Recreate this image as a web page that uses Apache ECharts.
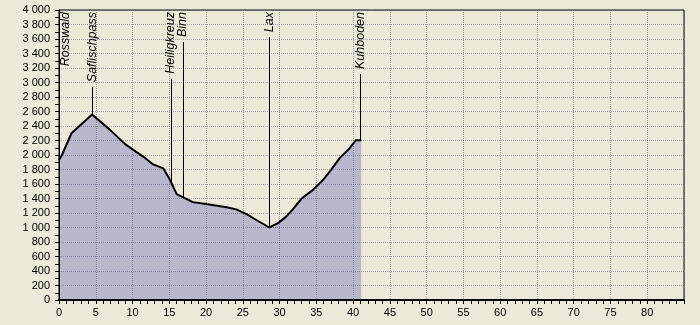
<!DOCTYPE html>
<html>
<head>
<meta charset="utf-8">
<script src="https://cdn.jsdelivr.net/npm/echarts@6/dist/echarts.min.js"></script>
<style>
html,body{margin:0;padding:0;background:#ECE9D8;}
#c{width:700px;height:325px;}
</style>
</head>
<body>
<div id="c"></div>
<script>
// Elevation profile: distance (km) and elevation (m)
const distanceKm = [0, 0.4, 1.7, 4.5, 6.9, 9.0, 10.1, 11.5, 12.8, 14.2, 15.1, 16.0, 16.9, 18.2, 20.0, 22.8, 24.1, 25.5, 26.9, 28.6, 29.8, 30.9, 31.8, 33.0, 34.5, 35.9, 37.0, 38.2, 39.5, 40.4, 41.1];
const elevationM = [1930, 2000, 2300, 2560, 2350, 2150, 2070, 1975, 1870, 1815, 1655, 1460, 1415, 1350, 1325, 1280, 1250, 1185, 1100, 1000, 1060, 1150, 1250, 1400, 1515, 1655, 1795, 1960, 2090, 2205, 2205];

// Waypoints
const placeNames = ['Rosswald', 'Saflischpass', 'Heiligkreuz', 'Binn', 'Lax', 'Kuhboden'];
const placeKm = [0, 4.5, 15.2, 16.8, 28.6, 41.0];
const placeElev = [1930, 2560, 1635, 1420, 1000, 2205];

// Axis settings
const xMin = 0, xMax = 85, xStep = 5;
const yMin = 0, yMax = 4000, yStep = 200;

const profile = distanceKm.map((d, i) => [d, elevationM[i]]);
const places = placeNames.map((n, i) => [placeKm[i], placeElev[i], n]);

const labelFont = 'italic 12.5px "Liberation Sans", Arial, sans-serif';
const measureCtx = document.createElement('canvas').getContext('2d');
measureCtx.font = labelFont;

function fmt(v) { return String(v).replace(/\B(?=(\d{3})+(?!\d))/g, ' '); }

const chart = echarts.init(document.getElementById('c'), null, {renderer: 'canvas'});
const gridLeft = 59, gridTop = 10;
const split = {show: true, lineStyle: {color: 'rgba(70,70,120,0.45)', width: 1, type: [1, 1]}};
chart.setOption({
  backgroundColor: '#ECE9D8',
  animation: false,
  grid: {left: gridLeft, right: 16, top: gridTop, bottom: 25, show: true, borderColor: '#000', borderWidth: 1, backgroundColor: 'transparent'},
  xAxis: {
    type: 'value', min: xMin, max: xMax, interval: xStep, z: 2,
    axisLine: {show: true, onZero: false, lineStyle: {color: '#000', width: 2}},
    axisTick: {show: true, length: 4, lineStyle: {color: '#000'}},
    minorTick: {show: true, splitNumber: 5, length: 4, lineStyle: {color: '#000'}},
    axisLabel: {color: '#000', fontSize: 11, fontFamily: '"Liberation Sans", Arial, sans-serif', margin: 7, showMaxLabel: false},
    splitLine: split
  },
  yAxis: {
    type: 'value', min: yMin, max: yMax, interval: yStep, z: 2,
    axisLine: {show: true, lineStyle: {color: '#000', width: 1}},
    axisTick: {show: true, length: 4, lineStyle: {color: '#000'}},
    minorTick: {show: true, splitNumber: 2, length: 4, lineStyle: {color: '#000'}},
    axisLabel: {color: '#000', fontSize: 11, fontFamily: '"Liberation Sans", Arial, sans-serif', margin: 9, formatter: fmt},
    splitLine: split
  },
  series: [
    {
      type: 'line', data: profile, z: 1, showSymbol: false, symbol: 'none',
      lineStyle: {width: 0, opacity: 0},
      areaStyle: {color: '#B9B7CB', opacity: 1}
    },
    {
      type: 'line', data: profile, z: 3, showSymbol: false, symbol: 'none',
      lineStyle: {color: '#000', width: 2}
    },
    {
      type: 'custom', z: 4, clip: false, data: places,
      renderItem: function (params, api) {
        const p = api.coord([api.value(0), api.value(1)]);
        const name = places[params.dataIndex][2];
        const w = measureCtx.measureText(name).width;
        const textTop = gridTop + 2;
        const lineTop = textTop + w + 5;
        const tx = Math.max(p[0], gridLeft + 7);
        const children = [];
        if (p[0] > gridLeft + 1) {
          children.push({
            type: 'line',
            shape: {x1: Math.round(p[0]) + 0.5, y1: lineTop, x2: Math.round(p[0]) + 0.5, y2: p[1]},
            style: {stroke: '#000', lineWidth: 1}
          });
        }
        children.push({
          type: 'text',
          x: tx, y: textTop, rotation: Math.PI / 2,
          style: {text: name, font: labelFont, fill: '#000', align: 'right', verticalAlign: 'middle'}
        });
        return {type: 'group', children: children};
      }
    }
  ]
});
</script>
</body>
</html>
